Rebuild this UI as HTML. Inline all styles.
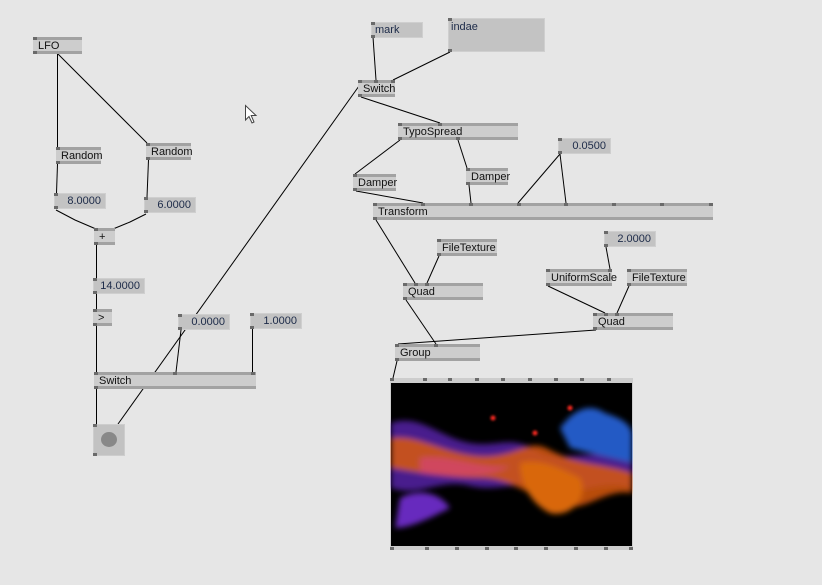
<!DOCTYPE html>
<html><head><meta charset="utf-8"><style>
body{margin:0;width:822px;height:585px;background:#e6e6e6;overflow:hidden;position:relative;font-family:"Liberation Sans",sans-serif}
svg.l{position:absolute;left:0;top:0;z-index:1}
.n{position:absolute;height:17px;box-sizing:border-box;background:#cdcdcd;border-top:3px solid #a2a2a2;border-bottom:3px solid #a2a2a2;font-size:11px;line-height:12px;padding-left:5px;color:#111;z-index:2;white-space:nowrap}
.n::before,.n::after{content:"";position:absolute;left:0;width:4px;height:3px;background:#6a6a6a}
.n::before{top:-3px}.n::after{bottom:-3px}
.v{position:absolute;height:16px;box-sizing:border-box;background:#c3c3c3;border:1px solid #cfcfcf;font-size:11px;line-height:15px;text-align:right;padding-right:4px;color:#1c2a48;z-index:2}
.v::before,.v::after{content:"";position:absolute;left:-1px;width:4px;height:3px;background:#6a6a6a}
.v::before{top:-1px}.v::after{bottom:-1px}
.p{position:absolute;width:4px;height:3px;background:#6a6a6a;z-index:3}
</style></head><body>
<svg class="l" width="822" height="585" stroke="#000" stroke-width="1" fill="none">
<line x1="57.5" y1="54" x2="57.5" y2="147"/>
<line x1="58" y1="54" x2="147" y2="143"/>
<line x1="57.5" y1="164" x2="56.5" y2="193"/>
<line x1="148.5" y1="160" x2="147" y2="197"/>
<path d="M56 210 L75 220 L96 229"/>
<path d="M146 214 L130 222 L113 229"/>
<line x1="96.5" y1="245" x2="96.5" y2="278"/>
<line x1="96.5" y1="294" x2="96.5" y2="309"/>
<line x1="96.5" y1="326" x2="96.5" y2="372"/>
<line x1="96.5" y1="389" x2="96.5" y2="424"/>
<line x1="359" y1="86" x2="118" y2="424"/>
<line x1="181" y1="330" x2="176" y2="372"/>
<line x1="252.5" y1="329" x2="252.5" y2="372"/>
<line x1="373" y1="37" x2="376" y2="80"/>
<line x1="450" y1="52" x2="393" y2="80"/>
<line x1="361" y1="97" x2="440" y2="123"/>
<line x1="400" y1="140" x2="355" y2="174"/>
<line x1="458" y1="140" x2="467" y2="168"/>
<line x1="356" y1="191" x2="423" y2="203"/>
<line x1="469" y1="185" x2="471" y2="203"/>
<line x1="560" y1="154" x2="518" y2="203"/>
<line x1="560" y1="154" x2="566" y2="203"/>
<line x1="376" y1="220" x2="415" y2="283"/>
<line x1="439" y1="256" x2="427" y2="283"/>
<line x1="606" y1="247" x2="610" y2="269"/>
<line x1="548" y1="286" x2="605" y2="313"/>
<line x1="629" y1="286" x2="617" y2="313"/>
<line x1="406" y1="300" x2="436" y2="344"/>
<line x1="596" y1="330" x2="398" y2="344"/>
<line x1="397" y1="361" x2="393" y2="378"/>
</svg>
<svg style="position:absolute;top:104px;left:244px;z-index:4" width="16" height="22"><path d="M1.5 1.5 L1.5 16 L5 12.5 L8 19 L10 18 L7.2 11.5 L12 11.5 Z" fill="#fff" stroke="#444" stroke-width="1"/></svg>

<div class="n" style="left:33px;top:37px;width:49px">LFO</div>
<div class="n" style="left:56px;top:147px;width:45px">Random</div>
<div class="n" style="left:146px;top:143px;width:45px">Random</div>
<div class="v" style="left:54px;top:193px;width:52px">8.0000</div>
<div class="v" style="left:144px;top:197px;width:52px">6.0000</div>
<div class="n" style="left:94px;top:228px;width:21px">+</div>
<div class="v" style="left:93px;top:278px;width:52px">14.0000</div>
<div class="n" style="left:93px;top:309px;width:19px">&gt;</div>
<div class="v" style="left:178px;top:314px;width:52px">0.0000</div>
<div class="v" style="left:250px;top:313px;width:52px">1.0000</div>
<div class="n" style="left:94px;top:372px;width:162px">Switch</div>
<div class="p" style="left:173px;top:372px"></div><div class="p" style="left:251px;top:372px"></div>
<div style="position:absolute;left:93px;top:424px;width:32px;height:32px;background:#c2c2c2;border:1px solid #cdcdcd;box-sizing:border-box;z-index:2"><div style="position:absolute;left:7px;top:7px;width:16px;height:15px;border-radius:50%;background:#888"></div></div>
<div class="p" style="left:93px;top:424px"></div><div class="p" style="left:93px;top:453px"></div>

<div class="v" style="left:371px;top:22px;width:52px;text-align:left;padding-left:3px;color:#1c2a48">mark</div>
<div class="v" style="left:448px;top:18px;width:97px;height:34px;text-align:left;padding-left:2px;line-height:16px">indae</div>
<div class="n" style="left:358px;top:80px;width:37px">Switch</div>
<div class="p" style="left:374px;top:80px"></div><div class="p" style="left:391px;top:80px"></div>
<div class="n" style="left:398px;top:123px;width:120px">TypoSpread</div>
<div class="p" style="left:438px;top:123px"></div><div class="p" style="left:456px;top:137px"></div>
<div class="n" style="left:353px;top:174px;width:43px">Damper</div>
<div class="n" style="left:466px;top:168px;width:42px">Damper</div>
<div class="v" style="left:558px;top:138px;width:53px">0.0500</div>
<div class="n" style="left:373px;top:203px;width:340px">Transform</div>
<div class="p" style="left:421px;top:203px"></div><div class="p" style="left:469px;top:203px"></div><div class="p" style="left:517px;top:203px"></div><div class="p" style="left:564px;top:203px"></div><div class="p" style="left:612px;top:203px"></div><div class="p" style="left:660px;top:203px"></div><div class="p" style="left:709px;top:203px"></div>
<div class="n" style="left:437px;top:239px;width:60px">FileTexture</div>
<div class="n" style="left:403px;top:283px;width:80px">Quad</div>
<div class="p" style="left:414px;top:283px"></div><div class="p" style="left:425px;top:283px"></div>
<div class="v" style="left:604px;top:231px;width:52px">2.0000</div>
<div class="n" style="left:546px;top:269px;width:66px">UniformScale</div>
<div class="p" style="left:608px;top:269px"></div>
<div class="n" style="left:627px;top:269px;width:60px">FileTexture</div>
<div class="n" style="left:593px;top:313px;width:80px">Quad</div>
<div class="p" style="left:604px;top:313px"></div><div class="p" style="left:615px;top:313px"></div>
<div class="n" style="left:395px;top:344px;width:85px">Group</div>
<div class="p" style="left:434px;top:344px"></div>

<div style="position:absolute;left:390px;top:378px;width:243px;height:172px;background:#cdcdcd;z-index:2">
<svg width="243" height="172" style="position:absolute;left:0;top:0">
<defs><filter id="b" x="-20%" y="-50%" width="140%" height="200%"><feGaussianBlur stdDeviation="3"/></filter><filter id="b2"><feGaussianBlur stdDeviation="1.2"/></filter></defs>
<rect x="1" y="5" width="241" height="163" fill="#000"/>
<g filter="url(#b)" opacity=".85">
<path d="M1 45 C30 35 50 60 80 65 C110 70 120 55 150 75 C170 85 200 70 242 80 L242 110 C210 100 190 120 160 110 C130 100 110 115 80 108 C50 100 30 120 1 110 Z" fill="#6a2bd0" opacity=".8"/>
<path d="M1 60 C30 55 60 80 100 78 C130 76 140 60 160 72 C190 88 215 85 242 95 L242 115 C215 110 195 135 170 128 C140 118 120 100 90 100 C60 100 30 95 1 90 Z" fill="#ff6a10" opacity=".85"/>
<path d="M10 120 C30 110 50 115 60 130 C40 140 20 150 5 150 Z" fill="#7a30e0"/>
<path d="M170 50 C185 30 200 25 215 35 C230 40 240 45 242 55 L242 85 C220 80 200 75 180 70 Z" fill="#2a6ae8"/>
<path d="M130 85 C150 80 170 90 190 100 C200 120 180 140 160 135 C140 125 130 105 130 85Z" fill="#ff7a10"/>
<path d="M30 80 C60 75 90 92 120 88 C100 100 60 100 30 95Z" fill="#ff4fa0" opacity=".6"/>
</g>
<g filter="url(#b2)" fill="#ff2a20"><circle cx="103" cy="40" r="2.5"/><circle cx="180" cy="30" r="2.5"/><circle cx="145" cy="55" r="2.5"/></g>
<g fill="#6a6a6a"><rect x="0" y="0" width="4" height="3"/><rect x="33" y="0" width="4" height="3"/><rect x="58" y="0" width="4" height="3"/><rect x="85" y="0" width="4" height="3"/><rect x="111" y="0" width="4" height="3"/><rect x="138" y="0" width="4" height="3"/><rect x="164" y="0" width="4" height="3"/><rect x="190" y="0" width="4" height="3"/><rect x="217" y="0" width="4" height="3"/>
<rect x="0" y="169" width="4" height="3"/><rect x="35" y="169" width="4" height="3"/><rect x="65" y="169" width="4" height="3"/><rect x="95" y="169" width="4" height="3"/><rect x="124" y="169" width="4" height="3"/><rect x="154" y="169" width="4" height="3"/><rect x="184" y="169" width="4" height="3"/><rect x="214" y="169" width="4" height="3"/><rect x="239" y="169" width="4" height="3"/></g>
</svg></div>
</body></html>
